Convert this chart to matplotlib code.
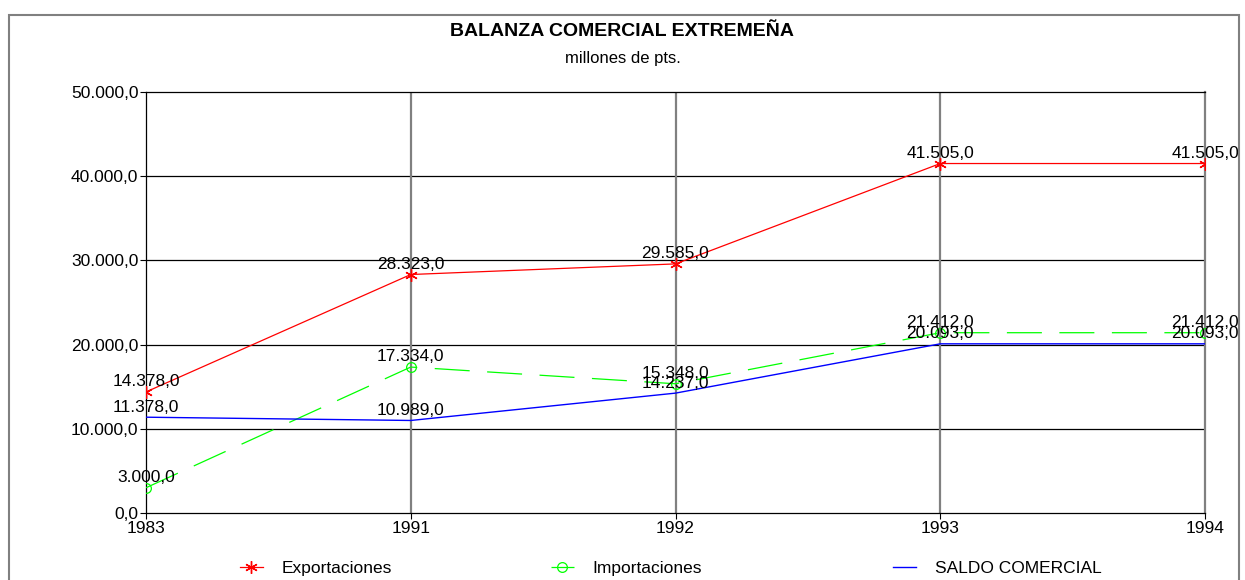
import matplotlib.pyplot as plt
from matplotlib.patches import Rectangle

plt.rcParams['font.family'] = ['Liberation Sans', 'DejaVu Sans']

years = ['1983', '1991', '1992', '1993', '1994']
exportaciones = [14378.0, 28323.0, 29585.0, 41505.0, 41505.0]
importaciones = [3000.0, 17334.0, 15348.0, 21412.0, 21412.0]
saldo = [11378.0, 10989.0, 14237.0, 20093.0, 20093.0]
yticks = [0, 10000, 20000, 30000, 40000, 50000]


def fmt(v):
    # spanish style: 41.505,0
    s = f"{v:,.1f}"
    return s.replace(',', 'X').replace('.', ',').replace('X', '.')


fig = plt.figure(figsize=(12.45, 5.8), dpi=100)
ax = fig.add_axes([146/1245, 1-513/580, (1205-146)/1245, (513-92)/580])

x = list(range(len(years)))
l1, = ax.plot(x, exportaciones, color='#ff0000', lw=0.9, marker=(6, 2, 0), ms=9,
              mew=1.0, label='Exportaciones', zorder=4)
l2, = ax.plot(x, importaciones, color='#00ff00', lw=0.9, dashes=(28, 14), marker='o',
              ms=7, mfc='none', mew=0.9, label='Importaciones', zorder=4)
l3, = ax.plot(x, saldo, color='#0000ff', lw=1.0, label='SALDO COMERCIAL', zorder=4)

for series in (exportaciones, importaciones, saldo):
    for xi, v in zip(x, series):
        ax.annotate(fmt(v), (xi, v), xytext=(0, 4), textcoords='offset points',
                    ha='center', va='baseline', fontsize=12.5, color='black',
                    annotation_clip=False, zorder=5)

ax.set_xlim(0, 4)
ax.set_ylim(0, 50000)
ax.set_xticks(x)
ax.set_xticklabels(years, fontsize=12.5)
ax.set_yticks(yticks)
ax.set_yticklabels([fmt(v) for v in yticks], fontsize=12.5)
ax.tick_params(axis='both', direction='out', length=4, width=0.8, pad=1.5, color='black')

for v in yticks[1:-1]:
    ax.axhline(v, color='black', lw=0.9, zorder=1)
for xi in x[1:-1]:
    ax.axvline(xi, color='#808080', lw=1.6, zorder=1)

ax.spines['left'].set_color('black')
ax.spines['bottom'].set_color('black')
ax.spines['top'].set_color('black')
ax.spines['right'].set_color('#808080')
ax.spines['right'].set_linewidth(1.6)
for s in ('left', 'bottom', 'top'):
    ax.spines[s].set_linewidth(0.9)

fig.text(0.5, 1-32/580, 'BALANZA COMERCIAL EXTREMEÑA', ha='center', va='center',
         fontsize=14, fontweight='bold')
fig.text(0.5, 1-58/580, 'millones de pts.', ha='center', va='center', fontsize=12)

# three separate legend entries, placed like the original
for line, xpos in ((l1, 240), (l2, 551), (l3, 893)):
    leg = fig.legend(handles=[line], loc='center left',
                     bbox_to_anchor=(xpos/1245, 1-568/580), frameon=False,
                     fontsize=12.5, handlelength=1.3, handletextpad=1.1,
                     borderpad=0, borderaxespad=0)

fig.patches.append(Rectangle((9/1245, -0.05), (1239-9)/1245, 1.05-15/580,
                             transform=fig.transFigure, fill=False,
                             edgecolor='#808080', lw=1.5))

fig.savefig('out.png', dpi=100)
